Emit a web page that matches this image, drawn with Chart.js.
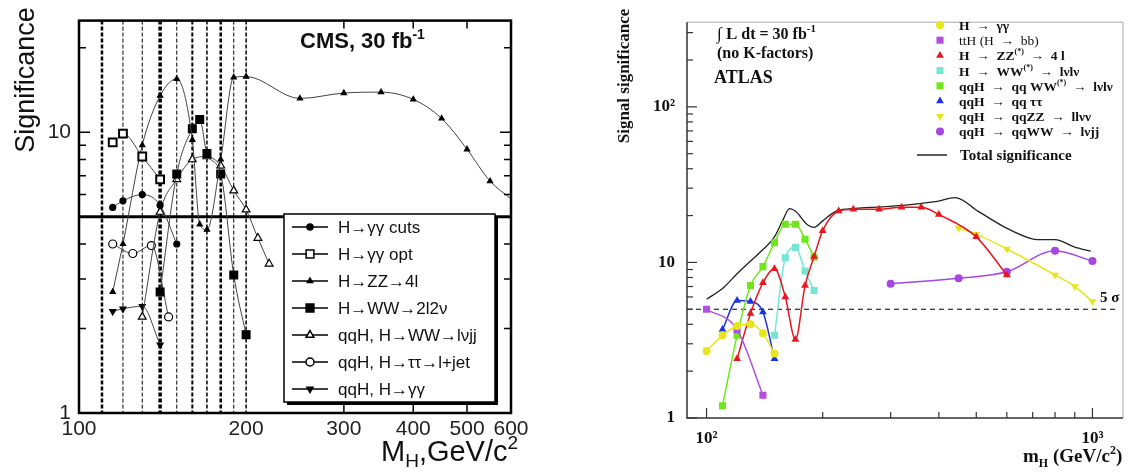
<!DOCTYPE html>
<html>
<head>
<meta charset="utf-8">
<script src="https://cdn.jsdelivr.net/npm/chart.js@4.4.1/dist/chart.umd.min.js"></script>
<style>
  body { margin: 0; background: #fff; width: 1128px; height: 475px; overflow: hidden; position: relative; }
  canvas { position: absolute; top: 0; }
  #cms   { left: 0; }
  #atlas { left: 590px; }
</style>
</head>
<body>
<canvas id="cms" width="560" height="475"></canvas>
<canvas id="atlas" width="538" height="475"></canvas>
<script>
const SANS  = '"Liberation Sans", Arial, sans-serif';
const SERIF = '"Liberation Serif", "Times New Roman", serif';

// ---------- CMS panel (left) ----------
const cmsXTicks   = [100, 200, 300, 400, 500, 600];
const cmsYTicks   = [1, 10];
const cmsVLines   = [110, 120, 130, 140, 150, 160, 170, 180, 190, 200];
const cmsMinorX   = [300, 400, 500];
const cmsMinorY   = [2, 3, 4, 5, 6, 7, 8, 9, 20];
const cmsFiveSigma = 5;

const ggCutsMass = [115, 120, 130, 140, 150];
const ggCutsSig  = [5.4, 5.7, 6.0, 5.5, 4.0];
const ggOptMass  = [115, 120, 130, 140];
const ggOptSig   = [9.2, 9.9, 8.2, 6.8];
const zz4lMass   = [115, 120, 130, 140, 150, 160, 165, 170, 180, 190, 200, 250, 300, 350, 400, 450, 500, 550, 600];
const zz4lSig    = [2.7, 4.0, 9.0, 13.5, 15.5, 9.4, 4.7, 4.5, 8.0, 15.7, 15.8, 13.2, 13.8, 13.9, 13.1, 11.2, 8.7, 6.7, 5.8];
const ww2l2nMass = [140, 150, 160, 165, 170, 180, 190, 200];
const ww2l2nSig  = [2.7, 7.1, 10.3, 11.1, 8.4, 7.1, 3.1, 1.9];
const qqWWjjMass = [130, 140, 150, 160, 170, 180, 190, 200, 210, 220];
const qqWWjjSig  = [2.2, 5.2, 6.8, 8.0, 8.2, 7.6, 6.2, 5.3, 4.2, 3.4];
const qqTauMass  = [115, 125, 135, 145];
const qqTauSig   = [4.0, 3.7, 3.95, 2.2];
const qqGGMass   = [115, 120, 130, 140];
const qqGGSig    = [2.3, 2.35, 2.4, 1.75];

// ---------- ATLAS panel (right) ----------
const atlasXTicks = [100, 1000];
const atlasYTicks = [1, 10, 100];
const atlasMinorX = [200, 300, 400, 500, 600, 700, 800, 900];
const atlasMinorY = [2, 3, 4, 5, 6, 7, 8, 9, 20, 30, 40, 50, 60, 70, 80, 90, 200, 300];
const atlasFiveSigma = 5;

const hggMass     = [100, 110, 120, 130, 140, 150];
const hggSig      = [2.7, 3.4, 3.9, 4.0, 3.5, 2.6];
const tthMass     = [100, 120, 140];
const tthSig      = [5.0, 3.7, 1.4];
const hzzMass     = [120, 130, 140, 150, 160, 170, 180, 190, 200, 220, 240, 280, 320, 360, 400, 500, 600];
const hzzSig      = [2.4, 4.7, 7.4, 9.1, 6.0, 3.2, 7.1, 10.9, 16.0, 21.4, 22.0, 22.0, 22.6, 22.6, 20.3, 14.6, 8.3];
const hwwMass     = [150, 160, 170, 180, 190];
const hwwSig      = [3.4, 10.7, 12.5, 8.8, 6.6];
const vbfWWMass   = [110, 120, 130, 140, 150, 160, 170, 180, 190];
const vbfWWSig    = [1.2, 3.4, 7.1, 9.4, 13.4, 17.6, 17.6, 14.1, 10.8];
const vbfTauMass  = [110, 120, 130, 140, 150];
const vbfTauSig   = [3.7, 5.7, 5.6, 4.8, 2.4];
const vbfZZMass   = [450, 500, 600, 800, 900, 1000];
const vbfZZSig    = [16.6, 15.2, 12.2, 8.3, 7.0, 5.6];
const vbfWWjjMass = [300, 450, 600, 800, 1000];
const vbfWWjjSig  = [7.3, 7.9, 8.7, 11.9, 10.2];
const totalMass   = [100, 110, 120, 130, 140, 150, 158, 164, 171, 181, 190, 200, 216, 234, 297, 392, 441, 506, 594, 694, 720, 800, 896, 990];
const totalSig    = [5.8, 6.8, 8.45, 10.2, 12.1, 14.6, 18.9, 22.2, 21.1, 17.8, 16.8, 18.5, 21.3, 22.1, 22.9, 24.6, 26.1, 21.3, 16.8, 14.2, 14.0, 14.0, 12.6, 11.8];

const pts = (m, s) => m.map((x, i) => ({ x: x, y: s[i] }));

// draws a string made of pieces [text, size, dy]
function rich(ctx, x, y, parts, family, weight) {
  let cx = x;
  ctx.textAlign = 'left';
  ctx.textBaseline = 'alphabetic';
  parts.forEach(([t, size, dy]) => {
    ctx.font = `${weight} ${size}px ${family}`;
    ctx.fillText(t, cx, y + (dy || 0));
    cx += ctx.measureText(t).width;
  });
}

function marker(ctx, ds, x, y) {
  const r = Array.isArray(ds.pointRadius) ? ds.pointRadius[0] : ds.pointRadius;
  ctx.fillStyle = ds.pointBackgroundColor;
  ctx.strokeStyle = ds.pointBorderColor;
  Chart.helpers.drawPoint(ctx, {
    pointStyle: ds.pointStyle, radius: r, rotation: ds.pointRotation || 0,
    borderWidth: ds.pointBorderWidth
  }, x, y);
}

// ---------- CMS chart ----------
const cmsVLineWidths = [2.5, 1, 1, 3.5, 1, 2, 1.5, 2.5, 1, 1.5];

const cmsDecor = {
  id: 'cmsDecor',
  beforeDatasetsDraw(chart) {
    const { ctx, chartArea: a, scales: { x, y } } = chart;
    ctx.save();
    ctx.strokeStyle = '#000';
    ctx.setLineDash([4, 2]);
    cmsVLines.forEach((m, i) => {
      const px = x.getPixelForValue(m);
      ctx.lineWidth = cmsVLineWidths[i];
      ctx.beginPath(); ctx.moveTo(px, a.top); ctx.lineTo(px, a.bottom); ctx.stroke();
    });
    ctx.setLineDash([]);
    ctx.lineWidth = 3;
    const py = y.getPixelForValue(cmsFiveSigma);
    ctx.beginPath(); ctx.moveTo(a.left, py); ctx.lineTo(a.right, py); ctx.stroke();
    ctx.restore();
  },
  afterDatasetsDraw(chart) {
    const { ctx, chartArea: a, scales: { x, y } } = chart;
    ctx.save();
    ctx.strokeStyle = '#000';
    ctx.lineWidth = 1.5;
    cmsMinorY.concat([10]).forEach(v => {
      const py = y.getPixelForValue(v), len = v === 10 ? 11 : 7;
      ctx.beginPath();
      ctx.moveTo(a.left, py); ctx.lineTo(a.left + len, py);
      ctx.moveTo(a.right, py); ctx.lineTo(a.right - len, py);
      ctx.stroke();
    });
    cmsMinorX.forEach(v => {
      const px = x.getPixelForValue(v);
      ctx.beginPath();
      ctx.moveTo(px, a.top); ctx.lineTo(px, a.top + 8);
      ctx.moveTo(px, a.bottom); ctx.lineTo(px, a.bottom - 8);
      ctx.stroke();
    });
    ctx.lineWidth = 2.5;
    ctx.strokeRect(a.left, a.top, a.width, a.height);

    // legend box
    ctx.fillStyle = '#000';
    ctx.fillRect(287, 217, 211, 188);
    ctx.fillStyle = '#fff';
    ctx.fillRect(284, 214, 211, 188);
    ctx.lineWidth = 1.5;
    ctx.strokeRect(284, 214, 211, 188);
    chart.data.datasets.forEach((ds, i) => {
      const ly = 227 + i * 27;
      ctx.strokeStyle = '#000';
      ctx.lineWidth = 1.5;
      ctx.beginPath(); ctx.moveTo(292, ly); ctx.lineTo(328, ly); ctx.stroke();
      marker(ctx, ds, 310, ly);
      ctx.fillStyle = '#111';
      ctx.font = `17px ${SANS}`;
      ctx.textAlign = 'left';
      ctx.textBaseline = 'middle';
      ctx.fillText(ds.label, 338, ly + 1);
    });

    ctx.fillStyle = '#111';
    rich(ctx, 300, 48, [['CMS, 30 fb', 22, 0], ['-1', 14, -9]], SANS, 'bold');
    rich(ctx, 381, 461, [['M', 29, 0], ['H', 19, 6], [',GeV/c', 29, 0], ['2', 19, -12]], SANS, 'normal');

    ctx.translate(34, 80);
    ctx.rotate(-Math.PI / 2);
    ctx.font = `27px ${SANS}`;
    ctx.textAlign = 'center';
    ctx.textBaseline = 'alphabetic';
    ctx.fillText('Significance', 0, 0);
    ctx.restore();
  }
};

const cmsLine = { borderColor: '#444', borderWidth: 1, cubicInterpolationMode: 'monotone',
                  pointBorderColor: '#000', pointBorderWidth: 1.2 };

new Chart(document.getElementById('cms'), {
  type: 'line',
  data: {
    datasets: [
      { ...cmsLine, label: 'H→γγ cuts', data: pts(ggCutsMass, ggCutsSig),
        pointStyle: 'circle', pointRadius: 3, pointBackgroundColor: '#000' },
      { ...cmsLine, label: 'H→γγ opt', data: pts(ggOptMass, ggOptSig),
        pointStyle: 'rect', pointRadius: 5.5, pointBackgroundColor: '#fff', pointBorderWidth: 2,
        segment: { borderColor: c => c.p0DataIndex === 0 ? 'rgba(0,0,0,0)' : '#444' } },
      { ...cmsLine, label: 'H→ZZ→4l', data: pts(zz4lMass, zz4lSig),
        pointStyle: 'triangle', pointRadius: zz4lMass.map((m, i) => i === zz4lMass.length - 1 ? 0 : 3),
        pointBackgroundColor: '#000' },
      { ...cmsLine, label: 'H→WW→2l2ν', data: pts(ww2l2nMass, ww2l2nSig),
        pointStyle: 'rect', pointRadius: 5.5, pointBackgroundColor: '#000' },
      { ...cmsLine, label: 'qqH, H→WW→lνjj', data: pts(qqWWjjMass, qqWWjjSig),
        pointStyle: 'triangle', pointRadius: 4.5, pointBackgroundColor: '#fff' },
      { ...cmsLine, label: 'qqH, H→ττ→l+jet', data: pts(qqTauMass, qqTauSig),
        pointStyle: 'circle', pointRadius: 4, pointBackgroundColor: '#fff' },
      { ...cmsLine, label: 'qqH, H→γγ', data: pts(qqGGMass, qqGGSig),
        pointStyle: 'triangle', pointRotation: 180, pointRadius: 3.5, pointBackgroundColor: '#000' }
    ]
  },
  options: {
    responsive: false, animation: false, devicePixelRatio: 1,
    layout: { padding: { top: 6, right: 49, left: 0, bottom: 0 } },
    plugins: { legend: { display: false }, tooltip: { enabled: false } },
    scales: {
      x: {
        type: 'logarithmic', min: 100, max: 600,
        afterBuildTicks: s => { s.ticks = cmsXTicks.map(v => ({ value: v })); },
        afterFit: s => { s.height = 62; },
        ticks: { callback: v => String(v), color: '#222', font: { family: SANS, size: 21 },
                 padding: 4, maxRotation: 0, autoSkip: false },
        grid: { display: false, drawTicks: false }, border: { display: false }
      },
      y: {
        type: 'logarithmic', min: 1, max: 25,
        afterBuildTicks: s => { s.ticks = cmsYTicks.map(v => ({ value: v })); },
        afterFit: s => { s.width = 79; },
        ticks: { callback: v => String(v), color: '#222', font: { family: SANS, size: 21 }, padding: 8 },
        grid: { display: false, drawTicks: false }, border: { display: false }
      }
    }
  },
  plugins: [cmsDecor]
});

// ---------- ATLAS chart ----------
const atlasDecor = {
  id: 'atlasDecor',
  beforeDatasetsDraw(chart) {
    const { ctx, chartArea: a, scales: { y } } = chart;
    ctx.save();
    ctx.strokeStyle = '#000';
    ctx.lineWidth = 1.2;
    ctx.setLineDash([5, 4]);
    const py = y.getPixelForValue(atlasFiveSigma);
    ctx.beginPath(); ctx.moveTo(a.left, py); ctx.lineTo(a.right - 6, py); ctx.stroke();
    ctx.restore();
  },
  afterDatasetsDraw(chart) {
    const { ctx, chartArea: a, scales: { x, y } } = chart;
    ctx.save();
    // frame
    ctx.strokeStyle = '#aaa';
    ctx.lineWidth = 1;
    ctx.beginPath();
    ctx.moveTo(a.left, a.top); ctx.lineTo(a.right, a.top); ctx.lineTo(a.right, a.bottom);
    ctx.stroke();
    ctx.strokeStyle = '#333';
    ctx.lineWidth = 1.5;
    ctx.beginPath();
    ctx.moveTo(a.left, a.top); ctx.lineTo(a.left, a.bottom); ctx.lineTo(a.right, a.bottom);
    ctx.stroke();
    ctx.lineWidth = 1.2;
    atlasYTicks.concat(atlasMinorY).forEach(v => {
      const py = y.getPixelForValue(v), len = atlasYTicks.includes(v) ? 10 : 6;
      ctx.beginPath(); ctx.moveTo(a.left, py); ctx.lineTo(a.left + len, py); ctx.stroke();
    });
    atlasXTicks.concat(atlasMinorX).forEach(v => {
      const px = x.getPixelForValue(v), len = atlasXTicks.includes(v) ? 10 : 6;
      ctx.beginPath(); ctx.moveTo(px, a.bottom); ctx.lineTo(px, a.bottom - len); ctx.stroke();
    });

    ctx.fillStyle = '#111';
    rich(ctx, 510, 302, [['5 σ', 15, 0]], SERIF, 'bold');
    rich(ctx, 127, 39, [['∫ L', 17, 0], [' dt = 30 fb', 16, 0], ['-1', 11, -7]], SERIF, 'bold');
    rich(ctx, 127, 58, [['(no K-factors)', 16, 0]], SERIF, 'bold');
    rich(ctx, 124, 83, [['ATLAS', 18, 0]], SERIF, 'bold');
    rich(ctx, 433, 462, [['m', 19, 0], ['H', 12, 5], [' (GeV/c', 19, 0], ['2', 12, -8], [')', 19, 0]], SERIF, 'bold');

    // legend
    const labels = [
      [['H  →  γγ', 13.5, 0]],
      [['ttH (H  →  bb)', 13.5, 0]],
      [['H  →  ZZ', 13.5, 0], ['(*)', 8, -6], ['  →  4 l', 13.5, 0]],
      [['H  →  WW', 13.5, 0], ['(*)', 8, -6], ['  →  lνlν', 13.5, 0]],
      [['qqH  →  qq WW', 13.5, 0], ['(*)', 8, -6], ['  →  lνlν', 13.5, 0]],
      [['qqH  →  qq ττ', 13.5, 0]],
      [['qqH  →  qqZZ  →  llνν', 13.5, 0]],
      [['qqH  →  qqWW  →  lνjj', 13.5, 0]]
    ];
    chart.data.datasets.slice(0, 8).forEach((ds, i) => {
      const ly = 25 + i * 15.2;
      const r = ds.pointRadius;
      ctx.fillStyle = ds.pointBackgroundColor;
      ctx.strokeStyle = ds.pointBorderColor;
      Chart.helpers.drawPoint(ctx, { pointStyle: ds.pointStyle, radius: r,
        rotation: ds.pointRotation || 0, borderWidth: 0 }, 350, ly);
      ctx.fillStyle = '#111';
      rich(ctx, 369, ly + 5, labels[i], SERIF, i === 1 ? 'normal' : 'bold');
    });
    ctx.strokeStyle = '#000';
    ctx.lineWidth = 1.3;
    ctx.beginPath(); ctx.moveTo(327, 155); ctx.lineTo(357, 155); ctx.stroke();
    ctx.fillStyle = '#111';
    rich(ctx, 370, 160, [['Total significance', 15, 0]], SERIF, 'bold');

    ctx.translate(39, 76);
    ctx.rotate(-Math.PI / 2);
    ctx.font = `bold 17px ${SERIF}`;
    ctx.textAlign = 'center';
    ctx.textBaseline = 'alphabetic';
    ctx.fillText('Signal significance', 0, 0);
    ctx.restore();
  }
};

const atlasLine = (label, data, color, style, extra) => Object.assign({
  label, data, borderColor: color, borderWidth: 1.5, cubicInterpolationMode: 'monotone',
  pointStyle: style, pointRadius: 4.5, pointBackgroundColor: color, pointBorderColor: color,
  pointBorderWidth: 0
}, extra || {});

new Chart(document.getElementById('atlas'), {
  type: 'line',
  data: {
    datasets: [
      atlasLine('H → γγ', pts(hggMass, hggSig), '#e6e61a', 'circle', { pointRadius: 4 }),
      atlasLine('ttH (H → bb)', pts(tthMass, tthSig), '#b24ee0', 'rect', { pointRadius: 5 }),
      atlasLine('H → ZZ(*) → 4 l', pts(hzzMass, hzzSig), '#e8161e', 'triangle'),
      atlasLine('H → WW(*) → lνlν', pts(hwwMass, hwwSig), '#74e6d2', 'rect', { pointRadius: 5 }),
      atlasLine('qqH → qq WW(*) → lνlν', pts(vbfWWMass, vbfWWSig), '#6ee81c', 'rect', { pointRadius: 5 }),
      atlasLine('qqH → qq ττ', pts(vbfTauMass, vbfTauSig), '#1c32e0', 'triangle'),
      atlasLine('qqH → qqZZ → llνν', pts(vbfZZMass, vbfZZSig), '#e6e61a', 'triangle', { pointRotation: 180 }),
      atlasLine('qqH → qqWW → lνjj', pts(vbfWWjjMass, vbfWWjjSig), '#a646e6', 'circle', { pointRadius: 4 }),
      { label: 'Total significance', data: pts(totalMass, totalSig), borderColor: '#222',
        borderWidth: 1.3, pointRadius: 0, cubicInterpolationMode: 'monotone' }
    ]
  },
  options: {
    responsive: false, animation: false, devicePixelRatio: 1,
    layout: { padding: { top: 7, right: 1, left: 0, bottom: 0 } },
    plugins: { legend: { display: false }, tooltip: { enabled: false } },
    scales: {
      x: {
        type: 'logarithmic', min: 89, max: 1200,
        afterBuildTicks: s => { s.ticks = atlasXTicks.map(v => ({ value: v })); },
        afterFit: s => { s.height = 57; },
        ticks: { callback: v => (v === 100 ? '10²' : '10³'), color: '#111',
                 font: { family: SERIF, size: 17, weight: 'bold' }, padding: 10, maxRotation: 0, autoSkip: false },
        grid: { display: false, drawTicks: false }, border: { display: false }
      },
      y: {
        type: 'logarithmic', min: 1, max: 350,
        afterBuildTicks: s => { s.ticks = atlasYTicks.map(v => ({ value: v })); },
        afterFit: s => { s.width = 97; },
        ticks: { callback: v => (v === 100 ? '10²' : String(v)), color: '#111',
                 font: { family: SERIF, size: 17, weight: 'bold' }, padding: 12 },
        grid: { display: false, drawTicks: false }, border: { display: false }
      }
    }
  },
  plugins: [atlasDecor]
});
</script>
</body>
</html>
